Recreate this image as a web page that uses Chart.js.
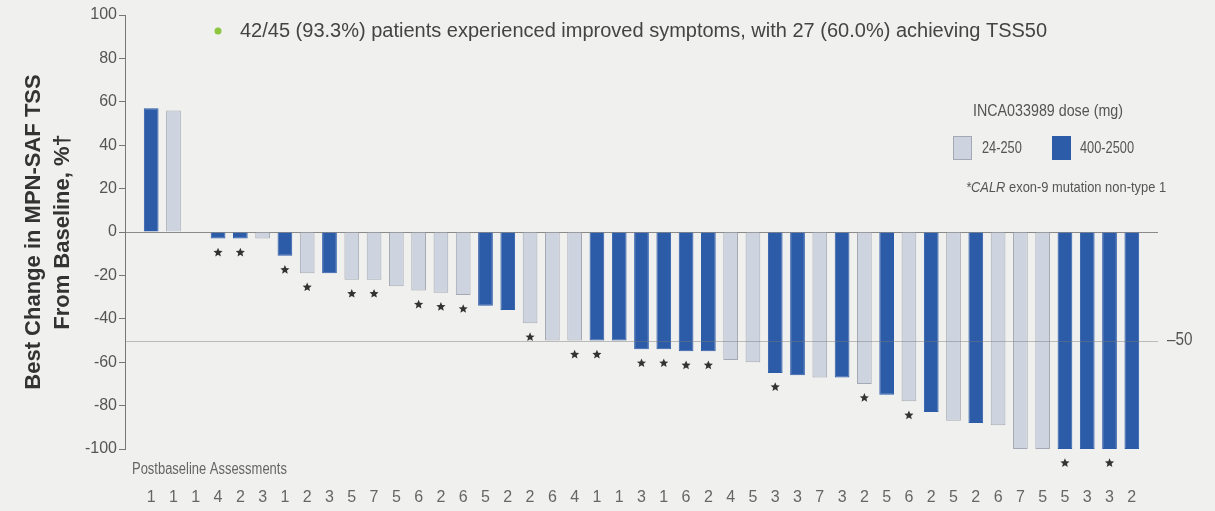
<!DOCTYPE html>
<html>
<head>
<meta charset="utf-8">
<script src="https://cdn.jsdelivr.net/npm/chart.js@4.4.1/dist/chart.umd.min.js"></script>
<style>
  html, body { margin: 0; padding: 0; background: #f0f0ef; }
  #wrap { width: 1215px; height: 511px; }
</style>
</head>
<body>
<div id="wrap"><canvas id="chart" width="1215" height="511"></canvas></div>
<script>
// one entry per patient, ordered as in the waterfall
const assessments = [1, 1, 1, 4, 2, 3, 1, 2, 3, 5, 7, 5, 6, 2, 6, 5, 2, 2, 6, 4, 1, 1, 3, 1, 6, 2, 4, 5, 3, 3, 7, 3, 2, 5, 6, 2, 5, 2, 6, 7, 5, 5, 3, 3, 2];
const bestChange = [57, 56, 0, -3, -3, -3, -11, -19, -19, -22, -22, -25, -27, -28, -29, -34, -36, -42, -50, -50, -50, -50, -54, -54, -55, -55, -59, -60, -65, -66, -67, -67, -70, -75, -78, -83, -87, -88, -89, -100, -100, -100, -100, -100, -100];
const doseGroup = ["H", "L", "L", "H", "H", "L", "H", "L", "H", "L", "L", "L", "L", "L", "L", "H", "H", "L", "L", "L", "H", "H", "H", "H", "H", "H", "L", "L", "H", "H", "L", "H", "L", "H", "L", "H", "L", "H", "L", "L", "L", "H", "H", "H", "H"];
const calrNonType1 = [4, 5, 7, 8, 10, 11, 13, 14, 15, 18, 20, 21, 23, 24, 25, 26, 29, 33, 35, 42, 44];
const tss50 = -50;

const LOW = "#cdd4e0", LOW_EDGE = "#a4a9b3", HIGH = "#2c5ba8";
const NARROW = '"Liberation Sans Narrow", "Arial Narrow", "Liberation Sans", Arial, sans-serif';
const SANS = '"Liberation Sans", Arial, sans-serif';

function drawStar(ctx, cx, cy, r) {
  ctx.beginPath();
  for (let i = 0; i < 10; i++) {
    const rad = i % 2 === 0 ? r : r * 0.45;
    const a = -Math.PI / 2 + i * Math.PI / 5;
    ctx.lineTo(cx + rad * Math.cos(a), cy + rad * Math.sin(a));
  }
  ctx.closePath();
  ctx.fill();
}

// the slide uses a condensed face; squeeze regular text horizontally
function squeezed(ctx, text, x, y, sx) {
  ctx.save();
  ctx.translate(x, y);
  ctx.scale(sx, 1);
  ctx.fillText(text, 0, 0);
  const w = ctx.measureText(text).width * sx;
  ctx.restore();
  return w;
}

const decor = {
  id: "decor",
  beforeDraw(chart) {
    const ctx = chart.ctx;
    ctx.save();
    ctx.fillStyle = "#f0f0ef";
    ctx.fillRect(0, 0, chart.width, chart.height);
    ctx.restore();
  },
  afterDatasetsDraw(chart) {
    const ctx = chart.ctx;
    const area = chart.chartArea;
    const y = chart.scales.y.getPixelForValue(tss50);
    ctx.save();
    ctx.strokeStyle = "rgba(120,120,120,0.45)";
    ctx.lineWidth = 1;
    ctx.beginPath();
    ctx.moveTo(area.left, Math.round(y) + 0.5);
    ctx.lineTo(area.right, Math.round(y) + 0.5);
    ctx.stroke();
    ctx.fillStyle = "#555";
    ctx.font = "18px " + SANS;
    ctx.textBaseline = "middle";
    squeezed(ctx, "\u201350", area.right + 9, y, 0.85);

    // CALR exon-9 non-type 1 markers under each flagged bar
    const meta = chart.getDatasetMeta(0);
    ctx.fillStyle = "#333";
    calrNonType1.forEach(p => {
      const bar = meta.data[p - 1];
      drawStar(ctx, bar.x, bar.y + 14, 4.8);
    });

    // subtitle
    ctx.fillStyle = "#8cc63f";
    ctx.beginPath();
    ctx.arc(218, 31, 3.5, 0, Math.PI * 2);
    ctx.fill();
    ctx.fillStyle = "#444";
    ctx.font = "20px " + SANS;
    ctx.textAlign = "left";
    ctx.fillText("42/45 (93.3%) patients experienced improved symptoms, with 27 (60.0%) achieving TSS50", 240, 31);

    // legend
    ctx.fillStyle = "#555";
    ctx.font = "17px " + SANS;
    ctx.textAlign = "center";
    squeezed(ctx, "INCA033989 dose (mg)", 1048, 111, 0.84);
    ctx.fillStyle = LOW;
    ctx.fillRect(953, 136, 19, 24);
    ctx.strokeStyle = LOW_EDGE;
    ctx.strokeRect(953.5, 136.5, 18, 23);
    ctx.fillStyle = HIGH;
    ctx.fillRect(1052, 136, 19, 24);
    ctx.fillStyle = "#555";
    ctx.font = "16px " + SANS;
    ctx.textAlign = "left";
    squeezed(ctx, "24-250", 982, 149, 0.8);
    squeezed(ctx, "400-2500", 1080, 149, 0.8);
    ctx.font = "italic 15px " + SANS;
    const w = squeezed(ctx, "*CALR", 966, 188, 0.86);
    ctx.font = "15px " + SANS;
    squeezed(ctx, " exon-9 mutation non-type 1", 966 + w, 188, 0.86);

    ctx.font = "16px " + SANS;
    ctx.fillStyle = "#666";
    squeezed(ctx, "Postbaseline Assessments", 132, 470, 0.81);
    ctx.restore();
  }
};

new Chart(document.getElementById("chart"), {
  type: "bar",
  data: {
    datasets: [{
      data: bestChange.map((v, i) => ({ x: i + 1, y: v })),
      backgroundColor: doseGroup.map(g => g === "H" ? HIGH : LOW),
      borderColor: doseGroup.map(g => g === "H" ? HIGH : LOW_EDGE),
      borderWidth: 1,
      barPercentage: 0.66,
      categoryPercentage: 1
    }]
  },
  options: {
    responsive: false,
    animation: false,
    layout: { padding: { top: 15, right: 57, left: 0, bottom: 0 } },
    plugins: { legend: { display: false }, tooltip: { enabled: false } },
    scales: {
      x: {
        type: "linear",
        min: 0.34,
        max: 45.66,
        grid: { display: false, drawTicks: false },
        border: { display: false },
        afterFit: s => { s.height = 62; },
        ticks: {
          stepSize: 1,
          maxTicksLimit: 100,
          autoSkip: false,
          includeBounds: false,
          maxRotation: 0,
          padding: 39,
          color: "#666",
          font: { family: NARROW, size: 16 },
          callback: v => assessments[v - 1] ?? ""
        }
      },
      y: {
        min: -100,
        max: 100,
        afterFit: s => { s.width = 125; },
        border: { color: "#777", width: 1 },
        grid: {
          color: c => c.tick && c.tick.value === 0 ? "#8a8a8a" : "transparent",
          tickColor: "#777",
          tickLength: 6
        },
        ticks: {
          stepSize: 20,
          padding: 2,
          color: "#555",
          font: { family: NARROW, size: 16 }
        },
        title: {
          display: true,
          text: ["Best Change in MPN-SAF TSS", "From Baseline, %\u2020"],
          color: "#333",
          font: { family: SANS, size: 22, weight: "bold", lineHeight: 1.32 },
          padding: { top: 19, bottom: 0 }
        }
      }
    }
  },
  plugins: [decor]
});
</script>
</body>
</html>
